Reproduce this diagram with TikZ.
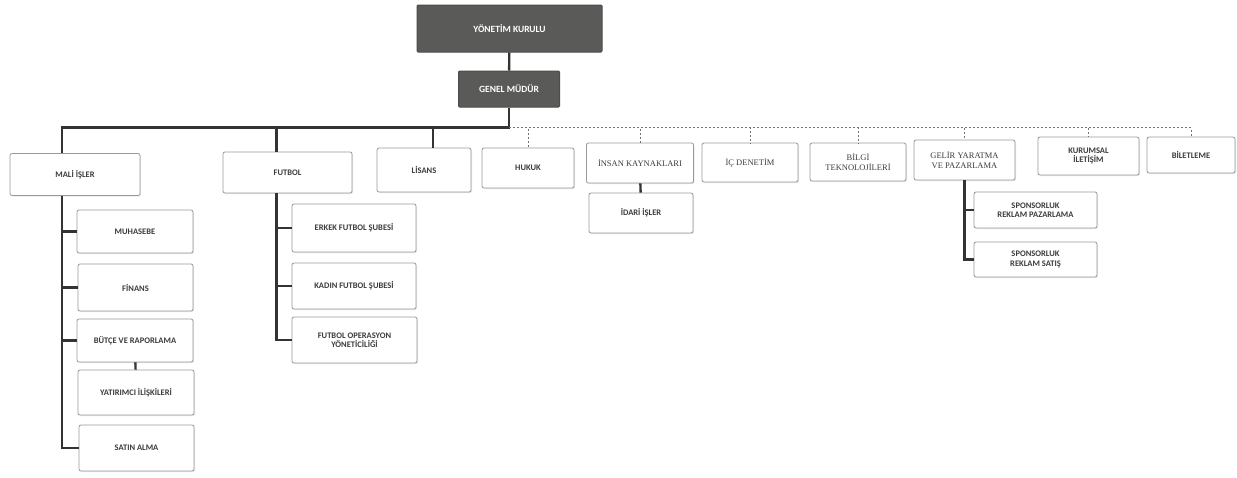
\documentclass[tikz,border=0pt]{standalone}
\usepackage{fontspec}
\setmainfont{Carlito}
\newfontfamily\serifb{Liberation Serif}
\usetikzlibrary{shadows}
\definecolor{boardgray}{HTML}{5A5A58}
\definecolor{boxline}{HTML}{9A9A9A}
\definecolor{txtgray}{HTML}{3C3C3C}

\begin{document}
\begin{tikzpicture}[x=1pt, y=-1pt,
    unit/.style={draw=boxline, line width=0.8pt, fill=white, rounded corners=2pt,
        text=txtgray, font=\fontsize{8.5}{9.5}\selectfont\bfseries, align=center,
        inner sep=1pt, drop shadow={opacity=0.18, shadow xshift=1pt, shadow yshift=-1pt}},
    bigunit/.style={unit, font=\fontsize{8.5}{9.5}\selectfont\serifb},
    head/.style={draw=black!70, line width=1pt, fill=boardgray, text=white, rounded corners=1pt,
        font=\fontsize{9.5}{11}\selectfont\bfseries, inner sep=1pt},
    solidlink/.style={draw=black!80, line width=2.4pt},
    dashlink/.style={draw=black!55, line width=0.7pt, dash pattern=on 2pt off 2pt}]
    \useasboundingbox (0, 0) rectangle (1237, 477);
    \fill [white] (0, 0) rectangle (1237, 477);

    \node [head, minimum width=185, minimum height=47] (kurul) at (509.5, 28.5) {YÖNETİM KURULU};
    \node [head, minimum width=101, minimum height=36] (mudur) at (509, 89) {GENEL MÜDÜR};

    \node [unit, minimum width=130, minimum height=42] (mali) at (75, 174.5) {MALİ İŞLER};
    \node [unit, minimum width=129, minimum height=41] (futbol) at (287.5, 172.5) {FUTBOL};
    \node [unit, minimum width=94, minimum height=44] (lisans) at (424, 170) {LİSANS};
    \node [unit, minimum width=92, minimum height=40] (hukuk) at (528, 168) {HUKUK};
    \node [bigunit, minimum width=107, minimum height=40] (ik) at (640, 163) {İNSAN KAYNAKLARI};
    \node [unit, minimum width=104, minimum height=40] (idari) at (641, 213) {İDARİ İŞLER};
    \node [bigunit, minimum width=96, minimum height=39] (denetim) at (750, 162.5) {İÇ DENETİM};
    \node [bigunit, minimum width=96, minimum height=38] (bilgi) at (858, 162) {BİLGİ\\TEKNOLOJİLERİ};
    \node [bigunit, minimum width=101, minimum height=40] (gelir) at (964.5, 160) {GELİR YARATMA\\VE PAZARLAMA};
    \node [unit, minimum width=101, minimum height=38] (kurumsal) at (1088.5, 156) {KURUMSAL\\İLETİŞİM};
    \node [unit, minimum width=88, minimum height=36] (bilet) at (1191, 155) {BİLETLEME};

    \node [unit, minimum width=123, minimum height=36] (sppazar) at (1035.5, 210) {SPONSORLUK\\REKLAM PAZARLAMA};
    \node [unit, minimum width=123, minimum height=35] (spsatis) at (1035.5, 259.5) {SPONSORLUK\\REKLAM SATIŞ};

    \node [unit, minimum width=116, minimum height=43] (muhasebe) at (135, 231.5) {MUHASEBE};
    \node [unit, minimum width=115, minimum height=47] (finans) at (135.5, 287.5) {FİNANS};
    \node [unit, minimum width=116, minimum height=43] (butce) at (135, 340.5) {BÜTÇE VE RAPORLAMA};
    \node [unit, minimum width=116, minimum height=45] (yatirimci) at (136, 392.5) {YATIRIMCI İLİŞKİLERİ};
    \node [unit, minimum width=115, minimum height=46] (satin) at (136.5, 448) {SATIN ALMA};

    \node [unit, minimum width=124, minimum height=48] (erkek) at (354, 228) {ERKEK FUTBOL ŞUBESİ};
    \node [unit, minimum width=124, minimum height=46] (kadin) at (354, 286) {KADIN FUTBOL ŞUBESİ};
    \node [unit, minimum width=125, minimum height=46] (operasyon) at (354.5, 340) {FUTBOL OPERASYON\\YÖNETİCİLİĞİ};

    \coordinate (hub) at ([yshift=-20pt] mudur.south);

    \draw [solidlink] (kurul) -- (mudur);
    \foreach \n/\dx in {mali/-13, futbol/-11, lisans/9} {
        \coordinate (\n bus) at ([xshift=\dx pt] \n.south);
        \draw [solidlink] (mudur.south) -- (hub) -| ([xshift=\dx pt] \n.north);
    }
    \foreach \n in {hukuk, ik, denetim, bilgi, gelir, kurumsal, bilet} {
        \draw [dashlink] (hub) -| (\n.north);
    }
    \foreach \n in {muhasebe, finans, butce, satin} {
        \draw [solidlink] (malibus) |- (\n.west);
    }
    \foreach \n in {erkek, kadin, operasyon} {
        \draw [solidlink] (futbolbus) |- (\n.west);
    }
    \foreach \n in {sppazar, spsatis} {
        \draw [solidlink] (gelir.south) |- (\n.west);
    }
    \draw [solidlink] (ik) -- (idari);
    \draw [solidlink] (butce) -- (yatirimci);
\end{tikzpicture}
\end{document}
